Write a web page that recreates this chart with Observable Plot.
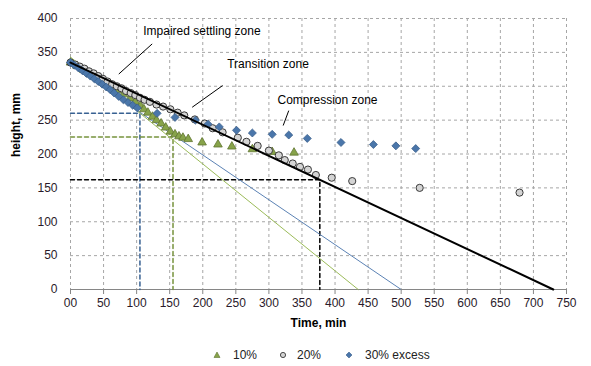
<!DOCTYPE html>
<html><head><meta charset="utf-8">
<script src="https://cdn.jsdelivr.net/npm/d3@7"></script>
<script src="https://cdn.jsdelivr.net/npm/@observablehq/plot@0.6"></script>
<style>
body{margin:0;background:#fff;font-family:"Liberation Sans",Arial,sans-serif;}
#wrap{position:relative;width:591px;height:366px;background:#fff;}
#wrap svg{display:block;}
.legend{position:absolute;top:347px;left:0;width:591px;height:16px;font-size:12px;color:#222;}
.item{position:absolute;top:0;height:16px;line-height:16px;white-space:nowrap;}
</style></head><body><div id="wrap"></div>
<script>
// ---- data ----
const xTicks = [0,50,100,150,200,250,300,350,400,450,500,550,600,650,700,750];
const xTickLabels = ["00","50","100","150","200","250","300","350","400","450","500","550","600","650","700","750"];
const yTicks = [0,50,100,150,200,250,300,350,400];

// 10% (triangles)
const t10 = [0,10,20,30,40,50,60,70,80,90,98,106,111,117,124,130,137,144,151,158,164,170,178,199,223,244,275,305,338];
const h10 = [335,330,324,318,312,306,300,294,288,282,277,271,266,261,255,250,245,239,233,229,226,224,222,217,214,211,207,203,202];

// 20% (circles)
const t20 = [0,7,14,21,28,35,42,49,56,63,70,77,84,91,98,105,112,120,130,140,151,162,172,188,203,215,230,253,266,283,300,315,324,336,347,359,371,395,426,528,679];
const h20 = [335,332,329,326,322,319,315,311,307,303,300,297,293,290,287,283,280,277,273,270,266,261,257,251,245,238,232,224,218,212,205,198,191,186,181,177,169,165,160,150,143];

// 30% excess (diamonds)
const t30 = [0,6,12,18,24,30,36,42,48,54,60,66,73,80,87,94,101,131,158,189,208,225,251,275,305,330,358,409,458,492,522];
const h30 = [335,331,327,323,319,315,311,307,303,299,295,290,285,280,276,272,268,260,254,250,244,240,235,231,229,228,223,217,214,212,208];

// tangent lines (endpoints)
const blueLineT = [0,500],  blueLineH = [331,0];
const greenLineT = [0,435], greenLineH = [343,0];
const blackLineT = [0,730], blackLineH = [335,0];

// dashed guides
const blueGuideT = [0,105,105],  blueGuideH = [260,260,0];
const greenGuideT = [0,155,155], greenGuideH = [225,225,0];
const blackGuideT = [0,377,377], blackGuideH = [162,162,0];

// annotations
const noteLabels = ["Impaired settling zone","Transition zone","Compression zone"];
const noteT = [110,237,313];
const noteH = [381,332,279];
const leaderT1 = [123.5,230,330], leaderH1 = [362.5,301,264];
const leaderT2 = [73,184,321.6],  leaderH2 = [318,269,242];

// ---- build ----
const pts = (ts, hs) => ts.map((t,i) => ({t, h: hs[i]}));
const d10 = pts(t10,h10), d20 = pts(t20,h20), d30 = pts(t30,h30);
const notes = noteLabels.map((s,i)=>({s, t:noteT[i], h:noteH[i]}));
const leaders = leaderT1.map((t,i)=>({t1:t,h1:leaderH1[i],t2:leaderT2[i],h2:leaderH2[i]}));

const chart = Plot.plot({
  width: 591, height: 340,
  marginLeft: 70, marginRight: 25, marginTop: 18, marginBottom: 51,
  style: {fontFamily: "'Liberation Sans', Arial, sans-serif", fontSize: "12px", color: "#222", background: "#fff"},
  x: {domain: [0, 750]},
  y: {domain: [0, 400]},
  marks: [
    Plot.ruleX(xTicks, {stroke: "#a6a6a6", strokeDasharray: "3,3"}),
    Plot.ruleY(yTicks.filter(d => d > 0), {stroke: "#a6a6a6", strokeDasharray: "3,3"}),
    Plot.ruleY([0], {stroke: "#868686"}),
    Plot.line(pts(blueGuideT, blueGuideH), {x: "t", y: "h", stroke: "#376092", strokeDasharray: "4,3"}),
    Plot.line(pts(greenGuideT, greenGuideH), {x: "t", y: "h", stroke: "#76923c", strokeDasharray: "4,3"}),
    Plot.line(pts(blackGuideT, blackGuideH), {x: "t", y: "h", stroke: "#000", strokeDasharray: "4,3"}),
    Plot.line(pts(blueLineT, blueLineH), {x: "t", y: "h", stroke: "#5b82b4", strokeWidth: 1}),
    Plot.line(pts(greenLineT, greenLineH), {x: "t", y: "h", stroke: "#9bbb59", strokeWidth: 1}),
    Plot.dot(d10, {x: "t", y: "h", symbol: "triangle", r: 3.2, fill: "#87a34a", stroke: "#5f7530", strokeWidth: 0.8}),
    Plot.dot(d20, {x: "t", y: "h", symbol: "circle", r: 3.6, fill: "#d4d4d4", stroke: "#3a3a3a", strokeWidth: 1}),
    Plot.dot(d30, {x: "t", y: "h", symbol: "diamond2", r: 3.6, fill: "#4a76aa", stroke: "#3b5f8c", strokeWidth: 0.8}),
    Plot.line(pts(blackLineT, blackLineH), {x: "t", y: "h", stroke: "#000", strokeWidth: 2}),
    Plot.link(leaders, {x1: "t1", y1: "h1", x2: "t2", y2: "h2", stroke: "#000", strokeWidth: 1}),
    Plot.text(notes, {x: "t", y: "h", text: "s", textAnchor: "start", fontSize: 12, fill: "#000"}),
    Plot.axisX(xTicks, {tickSize: 5, tickPadding: 4, stroke: "#868686", tickFormat: d => xTickLabels[xTicks.indexOf(d)], label: null, fill: "#2a1a2a"}),
    Plot.axisY(yTicks, {tickSize: 0, tickPadding: 13, label: null, fill: "#2a1a2a"}),
    Plot.text(["Time, min"], {frameAnchor: "bottom", dy: 37, fontWeight: "bold", fontSize: 12, fill: "#000"}),
    Plot.text(["height, mm"], {frameAnchor: "left", dx: -54, dy: 3, rotate: -90, fontWeight: "bold", fontSize: 12, fill: "#000"})
  ]
});
const wrap = document.getElementById("wrap");
wrap.appendChild(chart);

// legend
const legendItems = [
  {label: "10%", x: 217, tx: 233, shape: "tri"},
  {label: "20%", x: 283, tx: 297, shape: "circ"},
  {label: "30% excess", x: 349, tx: 365, shape: "dia"}
];
const lg = document.createElement("div");
lg.className = "legend";
for (const it of legendItems) {
  const m = document.createElementNS("http://www.w3.org/2000/svg","svg");
  m.setAttribute("width","10"); m.setAttribute("height","10");
  m.style.position = "absolute"; m.style.left = (it.x - 5) + "px"; m.style.top = "3px";
  let s;
  if (it.shape === "tri") { s = '<path d="M5,2 L8,7.5 L2,7.5 Z" fill="#87a34a" stroke="#5f7530" stroke-width="0.6"/>'; }
  else if (it.shape === "circ") { s = '<circle cx="5" cy="5" r="2.6" fill="#d4d4d4" stroke="#3a3a3a" stroke-width="0.9"/>'; }
  else { s = '<path d="M5,2 L8,5 L5,8 L2,5 Z" fill="#4a76aa" stroke="#3b5f8c" stroke-width="0.6"/>'; }
  m.innerHTML = s;
  lg.appendChild(m);
  const tx = document.createElement("div");
  tx.className = "item"; tx.style.left = it.tx + "px"; tx.textContent = it.label;
  lg.appendChild(tx);
}
wrap.appendChild(lg);
</script>
</body></html>
